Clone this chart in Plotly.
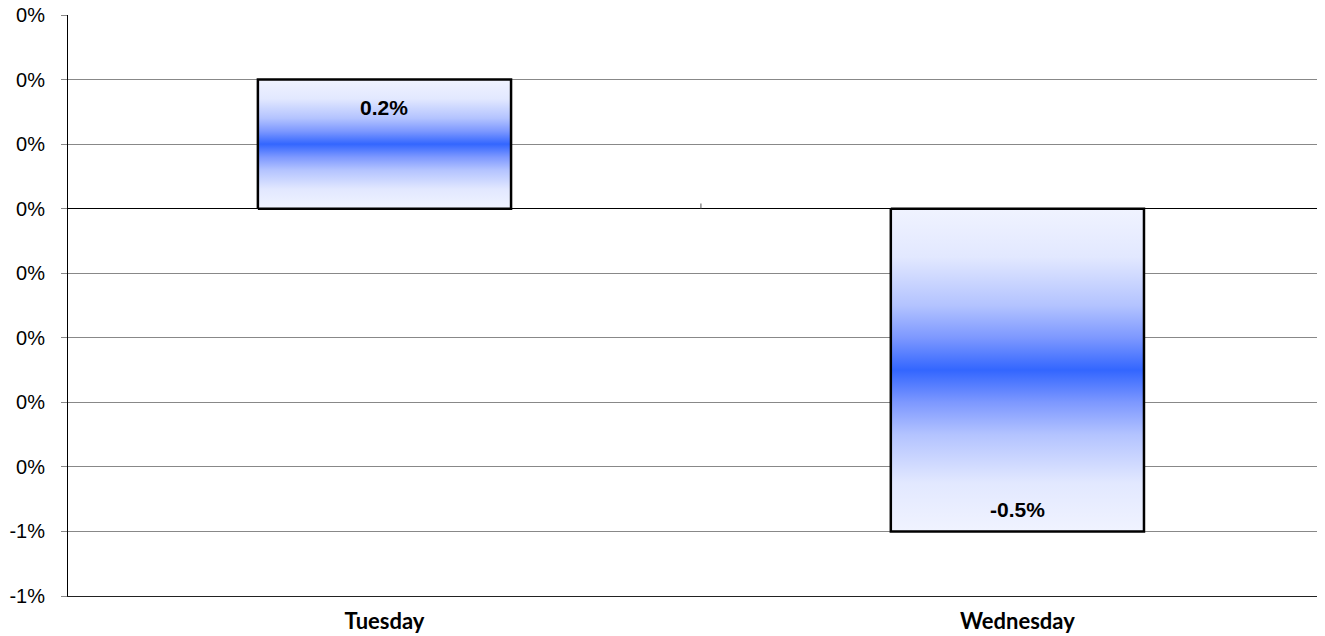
import plotly.graph_objects as go

days = ["Tuesday", "Wednesday"]
changes = [0.002, -0.005]
labels = ["0.2%", "-0.5%"]

y_ticks = [0.003, 0.002, 0.001, 0.0, -0.001, -0.002, -0.003, -0.004, -0.005, -0.006]
y_tick_text = ["0%", "0%", "0%", "0%", "0%", "0%", "0%", "0%", "-1%", "-1%"]

bar_width = 0.4
grad = [
    [0, "#f0f3ff"], [0.15, "#e2e8ff"], [0.3, "#b3c3ff"], [0.4, "#7d98ff"], [0.5, "#3366ff"],
    [0.6, "#7d98ff"], [0.7, "#b3c3ff"], [0.85, "#e2e8ff"], [1, "#f0f3ff"],
]

fig = go.Figure()

for i, (day, val) in enumerate(zip(days, changes)):
    x0, x1 = i - bar_width / 2, i + bar_width / 2
    fig.add_trace(go.Scatter(
        x=[x0, x1, x1, x0, x0],
        y=[0, 0, val, val, 0],
        mode="lines",
        fill="toself",
        fillgradient=dict(type="vertical", colorscale=grad),
        line=dict(color="black", width=2.5),
        hoverinfo="skip",
        showlegend=False,
    ))
    fig.add_annotation(
        x=i, y=val, text="<b>" + labels[i] + "</b>",
        showarrow=False,
        yshift=-28 if val > 0 else 22,
        font=dict(family="Liberation Sans, Arial", size=21, color="black"),
    )

# small tick mark between the categories on the zero line
fig.add_shape(type="line", xref="x", yref="y", x0=0.5, x1=0.5, y0=0, y1=0.00008,
              line=dict(color="#555", width=1))

# page body adds an 8px offset, so the figure is 8px smaller and margins shifted
fig.update_layout(
    width=1317,
    height=628,
    margin=dict(l=60, r=0, t=7, b=40),
    plot_bgcolor="white",
    paper_bgcolor="white",
    showlegend=False,
)

fig.update_xaxes(
    range=[-0.5, 1.486],
    tickvals=[0, 1],
    ticktext=days,
    tickfont=dict(family="Lato, Calibri", size=22, color="black", weight="bold"),
    showgrid=False,
    zeroline=False,
    showline=True,
    linecolor="#222",
    linewidth=1,
    ticks="",
    ticklabelstandoff=6,
    automargin=False,
)

fig.update_yaxes(
    range=[-0.006, 0.003],
    tickvals=y_ticks,
    ticktext=y_tick_text,
    tickfont=dict(family="Liberation Sans, Arial", size=20, color="black"),
    showgrid=True,
    gridcolor="#888",
    gridwidth=1,
    zeroline=True,
    zerolinecolor="black",
    zerolinewidth=1,
    showline=True,
    linecolor="black",
    linewidth=1,
    ticks="outside",
    ticklen=6,
    tickcolor="#888",
    ticklabelstandoff=12,
    ticklabeloverflow="allow",
    automargin=False,
)

fig.write_html("out.html")
